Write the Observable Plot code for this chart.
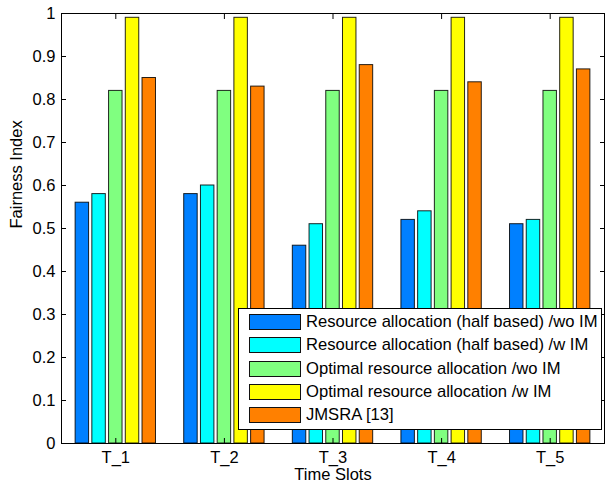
<!DOCTYPE html>
<html><head><meta charset="utf-8">
<script src="https://cdn.jsdelivr.net/npm/d3@7"></script>
<script src="https://cdn.jsdelivr.net/npm/@observablehq/plot@0.6"></script>
<style>
body{margin:0;background:#fff;font-family:"Liberation Sans",Arial,Helvetica,sans-serif;}
#wrap{position:relative;width:605px;height:487px;}
#legend{position:absolute;left:238px;top:308px;width:364px;height:122px;border:1px solid #000;background:#fff;box-sizing:border-box;font-size:16.6px;color:#000;}
.row{position:absolute;left:10px;height:16px;display:flex;align-items:center;white-space:nowrap;}
.sw{width:52px;height:16px;border:1px solid #111;box-sizing:border-box;margin-right:5px;flex:none;}
</style></head><body><div id="wrap"></div>
<script>
const slots = ["T_1", "T_2", "T_3", "T_4", "T_5"];
const seriesNames = [
  "Resource allocation (half based) /wo IM",
  "Resource allocation (half based) /w IM",
  "Optimal resource allocation /wo IM",
  "Optimal resource allocation /w IM",
  "JMSRA [13]"
];
const seriesColors = ["#0080ff", "#00ffff", "#80ff80", "#ffff00", "#ff8000"];
const halfWo = [0.56, 0.58, 0.46, 0.52, 0.51];
const halfW  = [0.58, 0.60, 0.51, 0.54, 0.52];
const optWo  = [0.82, 0.82, 0.82, 0.82, 0.82];
const optW   = [0.99, 0.99, 0.99, 0.99, 0.99];
const jmsra  = [0.85, 0.83, 0.88, 0.84, 0.87];
const yTicks = [0, 0.1, 0.2, 0.3, 0.4, 0.5, 0.6, 0.7, 0.8, 0.9, 1];
const yLabel = "Fairness Index";
const xLabel = "Time Slots";

const seriesValues = [halfWo, halfW, optWo, optW, jmsra];
const pitch = 0.154, barW = 0.124;
const rows = [];
slots.forEach((s, i) => {
  seriesValues.forEach((vals, k) => {
    const c = (i + 1) + (k - 2) * pitch;
    rows.push({slot: s, series: seriesNames[k], value: vals[i], x1: c - barW / 2, x2: c + barW / 2});
  });
});
const xTicks = slots.map((s, i) => i + 1);
const fmt = d => String(+d.toFixed(1));

const chart = Plot.plot({
  width: 605, height: 487,
  marginLeft: 61, marginRight: 1, marginTop: 13, marginBottom: 44,
  style: {fontFamily: '"Liberation Sans", Arial, sans-serif', fontSize: "16.5px", background: "#fff", color: "#000"},
  x: {domain: [0.5, 5.5], label: null, axis: null},
  y: {domain: [0, 1], label: null, axis: null},
  color: {domain: seriesNames, range: seriesColors},
  marks: [
    Plot.rect(rows, {x1: "x1", x2: "x2", y1: 0, y2: "value", fill: "series", stroke: "#000", strokeWidth: 1, strokeOpacity: 0.85}),
    Plot.axisY(yTicks, {anchor: "left", tickSize: -5, tickPadding: 11, tickFormat: fmt, label: null, fontSize: 16.5}),
    Plot.axisY(yTicks, {anchor: "right", tickSize: -5, tickFormat: () => "", label: null}),
    Plot.axisX(xTicks, {anchor: "bottom", tickSize: -5, tickPadding: 13, tickFormat: d => slots[d - 1], label: null, fontSize: 16.5}),
    Plot.axisX(xTicks, {anchor: "top", tickSize: -5, tickFormat: () => "", label: null}),
    Plot.frame({stroke: "#000", strokeWidth: 1}),
    Plot.text([yLabel], {frameAnchor: "left", dx: -45, rotate: -90, fontSize: 16.5, fill: "#000"}),
    Plot.text([xLabel], {frameAnchor: "bottom", dy: 36, fontSize: 16.5, fill: "#000"})
  ]
});
const wrap = document.getElementById("wrap");
wrap.appendChild(chart);

const legend = document.createElement("div");
legend.id = "legend";
seriesNames.forEach((name, k) => {
  const row = document.createElement("div");
  row.className = "row";
  row.style.top = (5 + k * 23.3) + "px";
  const sw = document.createElement("div");
  sw.className = "sw";
  sw.style.background = seriesColors[k];
  const t = document.createElement("span");
  t.textContent = name;
  row.appendChild(sw); row.appendChild(t);
  legend.appendChild(row);
});
wrap.appendChild(legend);
</script>
</body></html>
